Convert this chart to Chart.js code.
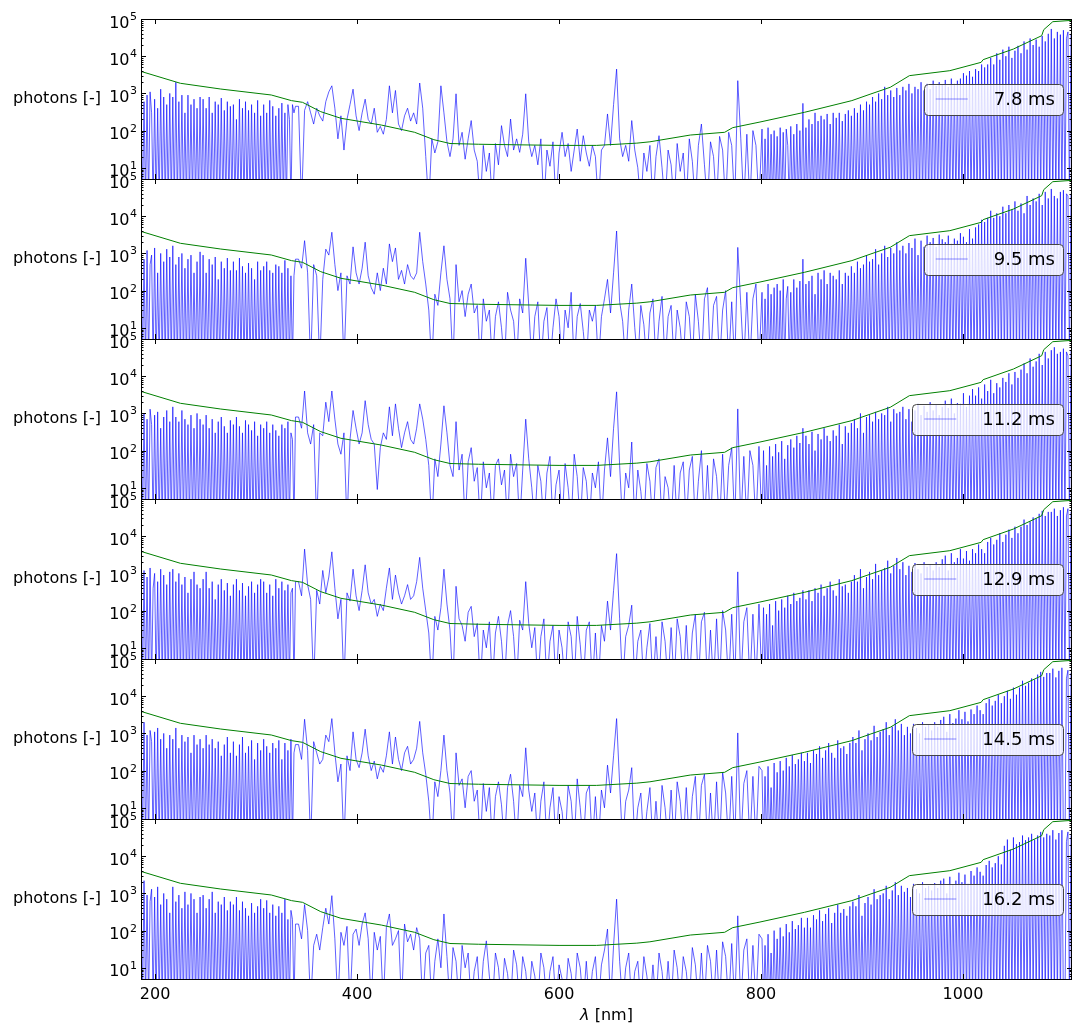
<!DOCTYPE html>
<html>
<head>
<meta charset="utf-8">
<script src="https://cdn.jsdelivr.net/npm/chart.js@4.4.1/dist/chart.umd.min.js"></script>
<style>
    html, body { margin: 0; padding: 0; background: #fff; }
    #wrap { position: relative; width: 1082px; height: 1036px; }
    #wrap canvas { position: absolute; left: 0; top: 0; }
</style>
</head>
<body>
<div id="wrap"></div>
<script>
// wavelength grid (nm): fine in UV and NIR, coarser in the visible
const wavelength = [];
for (let j = 0; j <= 102; j++) wavelength.push(186 + 1.5 * j);
for (let nm = 342; nm <= 798; nm += 3) wavelength.push(nm);
for (let j = 0; j <= 204; j++) wavelength.push(801 + 1.5 * j);

const exposures = ['7.8 ms', '9.5 ms', '11.2 ms', '12.9 ms', '14.5 ms', '16.2 ms'];
const xTicks = [200, 400, 600, 800, 1000];
const yDecades = [1, 2, 3, 4, 5];

// detection limit (green)
const greenNm = [186, 225, 265, 315, 335, 346, 364, 384, 424, 457, 476, 492, 520, 600, 637, 677, 690, 730, 764, 772, 799, 843, 890, 908, 928, 947, 987, 1018, 1020, 1050, 1078, 1080, 1089, 1108];
const greenPhotons = [3900, 1870, 1310, 906, 640, 575, 323, 214, 141, 90, 57, 45, 43, 40, 40, 46, 50, 76, 90, 120, 170, 310, 640, 950, 1460, 3000, 4080, 6840, 8070, 15600, 35600, 51600, 84700, 92000];

// measured photons (1 = no counts): uv 186-339 nm, vis 342-798 nm, ir 801-1107 nm
const uv78 = [
    1200, 1, 600, 1, 900, 1, 1100, 300, 1, 700,
    1, 400, 1, 1300, 1, 800, 1, 500, 1, 1000,
    1, 800, 1, 2000, 1, 600, 1, 900, 1, 300,
    1, 900, 1, 500, 1, 700, 1, 400, 1, 800,
    1, 700, 1, 400, 1, 800, 1, 300, 1, 600,
    1, 500, 1, 750, 1, 350, 1, 600, 1, 450,
    1, 500, 1, 200, 1, 700, 1, 400, 1, 600,
    1, 350, 1, 500, 1, 300, 1, 650, 1, 250,
    1, 500, 1, 300, 1, 650, 1, 450, 1, 250,
    1, 400, 1, 550, 1, 300, 1, 500, 200, 1,
    500, 300, 450
];
const vis78 = [
    450, 1, 350, 600, 300, 150, 400, 250,
    180, 600, 1100, 1600, 400, 60, 250, 30, 200, 500,
    1300, 250, 100, 300, 700, 200, 150, 400, 90, 130,
    80, 200, 1600, 300, 1200, 150, 100, 250, 400, 180,
    300, 150, 1900, 400, 20, 1, 60, 25, 50, 1600,
    300, 50, 20, 60, 975, 40, 90, 17, 60, 186,
    30, 15, 1, 40, 8, 25, 1, 45, 12, 136,
    40, 20, 205, 30, 60, 26, 80, 975, 50, 20,
    40, 12, 60, 1, 30, 11, 50, 1, 25, 90,
    20, 45, 8, 30, 110, 15, 73, 25, 11, 40,
    20, 1, 30, 40, 280, 40, 500, 4500, 60, 20,
    40, 15, 186, 30, 10, 1, 25, 8, 40, 1,
    20, 73, 10, 1, 30, 12, 1, 45, 8, 25,
    1, 60, 15, 1, 40, 150, 12, 1, 50, 20,
    1, 70, 30, 1, 90, 40, 1, 2200, 60, 1,
    80, 1, 100, 40, 1
];
const ir78 = [
    110, 1, 60, 1, 120, 1, 80, 1, 100, 1,
    70, 1, 120, 1, 90, 1, 110, 40, 1, 130,
    1, 80, 1, 150, 1, 100, 1, 540, 1, 120,
    1, 200, 1, 150, 1, 300, 1, 180, 1, 250,
    1, 200, 1, 280, 1, 150, 1, 300, 1, 220,
    1, 300, 1, 180, 1, 280, 1, 350, 1, 250,
    1, 400, 1, 300, 1, 500, 1, 350, 1, 600,
    1, 500, 1, 800, 1, 600, 1, 1000, 1, 700,
    1, 1500, 1, 900, 1, 1200, 1, 800, 1, 1400,
    1, 900, 1, 1500, 1, 1200, 1, 1800, 1, 1000,
    1, 1500, 1, 1300, 1, 2000, 1, 1200, 1, 1800,
    1, 1300, 1, 2200, 1, 1600, 1, 2000, 1, 1700,
    1, 2300, 1, 1500, 1, 2500, 1, 1800, 1, 2200,
    1, 2500, 1, 3500, 1, 3000, 1, 4000, 1, 2800,
    1, 4500, 1, 4000, 1, 6000, 1, 5000, 1, 6000,
    1, 9000, 1, 6000, 1, 12000, 1, 8000, 1, 15000,
    1, 10000, 1, 18000, 1, 9000, 1, 14000, 1, 19000,
    1, 12000, 1, 25000, 1, 15000, 1, 30000, 1, 20000,
    1, 28000, 1, 18000, 1, 35000, 1, 25000, 1, 40000,
    1, 54000, 1, 30000, 1, 45000, 1, 38000, 1, 50000,
    1, 30000, 45000, 1, 40000
];

const uv95 = [
    1800, 1, 700, 1, 1200, 1, 500, 900, 1, 1400,
    1, 300, 1, 1000, 1, 600, 1, 1300, 1, 800,
    1, 1600, 1, 500, 1, 800, 1, 1000, 1, 400,
    1, 700, 1, 900, 1, 300, 1, 600, 1, 1100,
    1, 900, 1, 300, 1, 700, 1, 500, 1, 800,
    1, 200, 1, 600, 1, 400, 1, 750, 1, 350,
    1, 600, 1, 350, 1, 750, 1, 450, 1, 300,
    1, 550, 1, 400, 1, 200, 1, 600, 1, 350,
    1, 450, 1, 600, 1, 350, 1, 300, 1, 500,
    1, 450, 1, 300, 1, 650, 1, 400, 1, 250,
    1, 250, 700
];
const vis95 = [
    700, 400, 2200, 300, 1, 500, 250, 1,
    200, 1300, 900, 3700, 500, 100, 300, 1, 250, 150,
    1500, 300, 150, 400, 2000, 250, 120, 80, 300, 100,
    400, 150, 1800, 600, 1400, 200, 350, 150, 500, 250,
    200, 300, 3700, 600, 150, 30, 1, 80, 40, 300,
    1600, 200, 60, 1, 500, 50, 100, 20, 80, 150,
    25, 40, 1, 60, 15, 30, 1, 20, 50, 10,
    1, 90, 30, 15, 1, 60, 25, 740, 40, 1,
    20, 50, 1, 15, 35, 1, 10, 60, 20, 1,
    30, 10, 90, 1, 20, 45, 8, 1, 30, 15,
    40, 1, 20, 60, 200, 25, 300, 4000, 50, 15,
    1, 30, 150, 10, 1, 40, 12, 1, 25, 60,
    1, 15, 70, 1, 20, 40, 1, 30, 10, 1,
    50, 20, 1, 80, 15, 1, 60, 120, 1, 40,
    70, 1, 30, 100, 1, 50, 1, 1450, 40, 1,
    90, 1, 60, 150, 1
];
const ir95 = [
    90, 1, 60, 1, 150, 1, 80, 1, 120, 1,
    150, 1, 100, 1, 200, 1, 60, 130, 1, 90,
    1, 200, 1, 120, 1, 180, 1, 700, 1, 150,
    1, 180, 1, 250, 1, 80, 1, 300, 1, 200,
    1, 350, 1, 150, 1, 300, 1, 250, 1, 200,
    1, 350, 1, 150, 1, 300, 1, 250, 1, 450,
    1, 300, 1, 600, 1, 400, 1, 500, 1, 900,
    1, 600, 1, 700, 1, 1300, 1, 500, 1, 1000,
    1, 1600, 1, 800, 1, 1400, 1, 1000, 1, 2000,
    1, 1200, 1, 1600, 1, 1000, 1, 1900, 1, 1400,
    1, 2500, 1, 900, 1, 2200, 1, 1500, 1, 3000,
    1, 2000, 1, 2600, 1, 1500, 1, 3200, 1, 2400,
    1, 2000, 1, 3000, 1, 1800, 1, 2500, 1, 2200,
    1, 3500, 1, 2800, 1, 2000, 1, 4500, 1, 2500,
    1, 5000, 1, 6000, 1, 8000, 1, 7000, 1, 9000,
    1, 14000, 1, 9000, 1, 12000, 1, 10000, 1, 18000,
    1, 12000, 1, 20000, 1, 15000, 1, 25000, 1, 14000,
    1, 22000, 1, 12000, 1, 35000, 1, 20000, 1, 30000,
    1, 25000, 1, 40000, 1, 20000, 1, 45000, 1, 30000,
    1, 54000, 1, 35000, 1, 30000, 1, 45000, 1, 50000,
    1, 40000, 35000, 1, 40000
];

const uv112 = [
    1800, 1, 1000, 1, 700, 1, 1300, 500, 1, 900,
    1, 1100, 1, 400, 1, 800, 1, 1200, 1, 600,
    1, 1500, 1, 800, 1, 600, 1, 1200, 1, 700,
    1, 500, 1, 900, 1, 400, 1, 1000, 1, 700,
    1, 500, 1, 900, 1, 400, 1, 700, 1, 300,
    1, 600, 1, 800, 1, 450, 1, 300, 1, 650,
    1, 500, 1, 800, 1, 450, 1, 300, 1, 650,
    1, 500, 1, 350, 1, 600, 1, 250, 1, 500,
    1, 400, 1, 600, 1, 300, 1, 500, 1, 350,
    1, 250, 1, 500, 1, 400, 1, 600, 1, 300,
    200, 1, 800
];
const vis112 = [
    800, 400, 4000, 300, 150, 500, 1, 300,
    250, 2000, 600, 4000, 700, 150, 80, 300, 1, 200,
    1200, 400, 150, 300, 2200, 500, 200, 150, 9, 120,
    300, 200, 1500, 250, 1800, 400, 120, 300, 600, 200,
    150, 400, 1800, 700, 200, 40, 1, 60, 20, 150,
    1600, 300, 40, 20, 600, 30, 80, 1, 50, 120,
    15, 35, 1, 50, 10, 25, 1, 40, 60, 12,
    30, 1, 80, 20, 45, 1, 30, 700, 60, 10,
    1, 40, 15, 1, 25, 70, 1, 12, 30, 1,
    45, 10, 1, 80, 20, 1, 35, 15, 1, 25,
    10, 50, 1, 30, 220, 20, 400, 3800, 40, 1,
    25, 10, 170, 1, 30, 8, 1, 45, 15, 1,
    35, 60, 1, 20, 10, 1, 40, 1, 25, 50,
    1, 30, 70, 1, 15, 100, 1, 40, 1, 60,
    20, 1, 80, 1, 40, 120, 1, 1320, 1, 70,
    1, 100, 40, 1, 130
];
const ir112 = [
    1, 100, 1, 40, 1, 130, 1, 70, 1, 150,
    1, 90, 1, 180, 1, 60, 1, 140, 1, 200,
    1, 120, 1, 250, 1, 160, 1, 400, 1, 250,
    1, 150, 1, 320, 1, 100, 1, 280, 1, 200,
    1, 400, 1, 250, 1, 180, 1, 350, 1, 250,
    1, 500, 1, 150, 1, 450, 1, 300, 1, 550,
    1, 700, 1, 400, 1, 1000, 1, 300, 1, 800,
    1, 900, 1, 600, 1, 1100, 1, 700, 1, 1000,
    1, 900, 1, 1500, 1, 600, 1, 1300, 1, 1000,
    1, 1100, 1, 1500, 1, 700, 1, 1300, 1, 600,
    1, 1200, 1, 1800, 1, 900, 1, 1600, 1, 1100,
    1, 2000, 1, 1200, 1, 1700, 1, 900, 1, 1500,
    1, 2200, 1, 1400, 1, 2500, 1, 1000, 1, 1900,
    1, 1800, 1, 3500, 1, 1500, 1, 3000, 1, 4500,
    1, 3000, 1, 5000, 1, 2500, 1, 6000, 1, 4000,
    1, 8000, 1, 3500, 1, 6500, 1, 5000, 1, 9000,
    1, 7000, 1, 12000, 1, 6000, 1, 13000, 1, 9000,
    1, 15000, 1, 22000, 1, 12000, 1, 30000, 1, 18000,
    1, 25000, 1, 40000, 1, 20000, 1, 45000, 1, 30000,
    1, 50000, 1, 60000, 1, 40000, 1, 45000, 1, 55000,
    1, 45000, 35000, 1, 50000
];

const uv129 = [
    1600, 1, 1200, 1, 800, 1, 1400, 1, 400, 1000,
    1, 600, 1, 1300, 1, 900, 1, 500, 1, 1100,
    1, 1300, 1, 600, 1, 1000, 1, 500, 1, 800,
    1, 300, 1, 700, 1, 1100, 1, 500, 1, 400,
    1, 700, 1, 1100, 1, 400, 1, 600, 1, 200,
    1, 500, 1, 700, 1, 350, 1, 550, 1, 250,
    1, 500, 1, 700, 1, 350, 1, 550, 1, 250,
    1, 450, 1, 600, 1, 300, 1, 500, 1, 700,
    1, 600, 1, 300, 1, 500, 1, 250, 1, 700,
    1, 400, 1, 600, 1, 350, 1, 500, 1, 300,
    400, 1, 600
];
const vis129 = [
    600, 250, 4500, 500, 200, 1, 350, 150,
    1200, 300, 800, 3800, 400, 60, 200, 1, 300, 180,
    1300, 250, 100, 350, 1700, 300, 150, 200, 70, 150,
    100, 400, 1400, 200, 900, 300, 150, 250, 500, 200,
    250, 600, 2700, 400, 100, 25, 1, 70, 30, 120,
    1300, 150, 30, 1, 450, 60, 40, 15, 90, 130,
    20, 45, 1, 30, 10, 50, 1, 25, 70, 15,
    1, 40, 100, 20, 1, 55, 30, 600, 45, 10,
    35, 1, 20, 60, 1, 15, 40, 1, 30, 10,
    1, 50, 20, 1, 70, 12, 1, 30, 50, 1,
    25, 1, 40, 15, 180, 30, 350, 3400, 60, 1,
    20, 40, 140, 1, 15, 30, 1, 10, 45, 1,
    20, 1, 50, 15, 1, 35, 1, 60, 20, 1,
    40, 1, 25, 80, 1, 50, 90, 1, 30, 1,
    60, 1, 100, 30, 1, 80, 1, 1100, 1, 50,
    120, 1, 80, 1, 150
];
const ir129 = [
    1, 120, 1, 80, 1, 150, 1, 40, 1, 180,
    1, 100, 1, 200, 1, 120, 1, 250, 1, 150,
    1, 300, 1, 180, 1, 220, 1, 350, 1, 200,
    1, 350, 1, 180, 1, 400, 1, 300, 1, 500,
    1, 250, 1, 400, 1, 600, 1, 350, 1, 250,
    1, 700, 1, 450, 1, 500, 1, 300, 1, 600,
    1, 900, 1, 600, 1, 1300, 1, 400, 1, 800,
    1, 1100, 1, 700, 1, 1800, 1, 900, 1, 1200,
    1, 1400, 1, 2200, 1, 1000, 1, 1600, 1, 2600,
    1, 1300, 1, 2000, 1, 900, 1, 1600, 1, 1100,
    1, 1900, 1, 1300, 1, 1000, 1, 2000, 1, 1500,
    1, 1700, 1, 1200, 1, 2000, 1, 1500, 1, 2400,
    1, 3000, 1, 1200, 1, 3500, 1, 2000, 1, 2600,
    1, 4500, 1, 2500, 1, 4000, 1, 2200, 1, 4500,
    1, 3500, 1, 6000, 1, 4500, 1, 3500, 1, 7000,
    1, 9000, 1, 6000, 1, 8000, 1, 12000, 1, 7000,
    1, 11000, 1, 15000, 1, 9000, 1, 18000, 1, 12000,
    1, 18000, 1, 28000, 1, 20000, 1, 25000, 1, 32000,
    1, 30000, 1, 40000, 1, 48000, 1, 35000, 1, 45000,
    1, 45000, 1, 55000, 1, 35000, 1, 50000, 1, 60000,
    1, 35000, 55000, 1, 45000
];

const uv145 = [
    1500, 1, 2000, 1, 900, 1, 1200, 600, 1, 1100,
    1, 1400, 1, 700, 1, 1000, 1, 400, 1, 900,
    1, 700, 1, 1400, 1, 400, 1, 900, 1, 600,
    1, 800, 1, 300, 1, 900, 1, 500, 1, 700,
    1, 400, 1, 900, 1, 500, 1, 700, 1, 400,
    1, 600, 1, 250, 1, 500, 1, 800, 1, 300,
    1, 600, 1, 250, 1, 500, 1, 800, 1, 300,
    1, 450, 1, 650, 1, 200, 1, 550, 1, 350,
    1, 700, 1, 450, 1, 300, 1, 550, 1, 400,
    1, 650, 1, 200, 1, 550, 1, 350, 1, 700,
    1, 300, 500
];
const vis145 = [
    500, 200, 2400, 350, 1, 600, 300, 150,
    200, 900, 600, 2500, 300, 50, 150, 1, 250, 100,
    1100, 200, 120, 300, 1300, 250, 100, 180, 60, 130,
    90, 250, 1100, 150, 800, 200, 100, 300, 450, 150,
    200, 400, 2100, 300, 80, 15, 1, 50, 20, 100,
    900, 100, 25, 1, 300, 40, 60, 10, 70, 100,
    15, 30, 1, 45, 8, 35, 1, 20, 50, 12,
    1, 35, 80, 15, 1, 40, 20, 410, 30, 8,
    25, 1, 15, 50, 1, 10, 35, 1, 20, 8,
    1, 40, 15, 1, 60, 10, 1, 25, 40, 1,
    20, 1, 30, 10, 140, 25, 250, 2500, 45, 1,
    15, 30, 120, 1, 10, 25, 1, 8, 35, 1,
    15, 1, 40, 10, 1, 30, 1, 50, 15, 1,
    35, 1, 20, 70, 1, 40, 80, 1, 25, 1,
    50, 1, 90, 25, 1, 70, 1, 1030, 1, 45,
    100, 1, 70, 1, 130
];
const ir145 = [
    100, 1, 70, 1, 130, 1, 35, 1, 160, 1,
    90, 1, 180, 1, 100, 1, 220, 1, 130, 1,
    260, 1, 150, 1, 200, 1, 300, 1, 180, 1,
    300, 1, 160, 1, 350, 1, 280, 1, 450, 1,
    220, 1, 350, 1, 550, 1, 300, 1, 220, 1,
    650, 1, 400, 1, 450, 1, 280, 1, 550, 1,
    800, 1, 550, 1, 1200, 1, 350, 1, 700, 1,
    1000, 1, 650, 1, 1600, 1, 800, 1, 1100, 1,
    1300, 1, 2000, 1, 900, 1, 1500, 1, 2400, 1,
    1200, 1, 1800, 1, 900, 1, 1500, 1, 1000, 1,
    1800, 1, 1400, 1, 1000, 1, 2000, 1, 1500, 1,
    1700, 1, 1200, 1, 2000, 1, 1500, 1, 2300, 1,
    2800, 1, 1100, 1, 3300, 1, 1900, 1, 2500, 1,
    4200, 1, 2400, 1, 3800, 1, 2100, 1, 4400, 1,
    3300, 1, 5600, 1, 4200, 1, 3300, 1, 6500, 1,
    8500, 1, 5600, 1, 7500, 1, 11000, 1, 6500, 1,
    10000, 1, 14000, 1, 8500, 1, 17000, 1, 11000, 1,
    17000, 1, 26000, 1, 19000, 1, 23000, 1, 30000, 1,
    28000, 1, 38000, 1, 45000, 1, 33000, 1, 42000, 1,
    42000, 1, 55000, 1, 32000, 1, 48000, 1, 58000, 1,
    1, 30000, 50000, 1, 42000
];

const uv162 = [
    1400, 1, 2200, 1, 900, 1, 600, 1300, 1, 800,
    1, 1500, 1, 500, 1, 1000, 1, 700, 1, 300,
    1, 1500, 1, 600, 1, 900, 1, 400, 1, 1100,
    1, 500, 1, 1000, 1, 700, 1, 300, 1, 800,
    1, 900, 1, 400, 1, 700, 1, 1100, 1, 300,
    1, 600, 1, 500, 1, 800, 1, 350, 1, 600,
    1, 500, 1, 800, 1, 350, 1, 600, 1, 400,
    1, 250, 1, 550, 1, 300, 1, 450, 1, 700,
    1, 400, 1, 650, 1, 300, 1, 500, 1, 250,
    1, 450, 1, 300, 1, 700, 1, 200, 1, 350,
    200, 1, 150
];
const vis162 = [
    150, 60, 500, 100, 1, 40, 80, 30,
    120, 400, 150, 870, 60, 1, 90, 40, 130, 1,
    80, 110, 40, 150, 300, 60, 1, 90, 30, 70,
    1, 120, 280, 40, 60, 100, 1, 150, 50, 80,
    30, 120, 60, 1, 25, 40, 1, 15, 60, 10,
    280, 20, 1, 35, 15, 1, 40, 10, 25, 1,
    8, 20, 1, 15, 53, 6, 1, 25, 10, 1,
    18, 7, 1, 30, 12, 1, 20, 8, 1, 15,
    6, 1, 25, 10, 1, 8, 20, 1, 12, 5,
    1, 18, 7, 1, 25, 10, 1, 15, 1, 8,
    20, 1, 12, 30, 110, 1, 40, 700, 15, 1,
    10, 25, 1, 8, 15, 1, 20, 6, 1, 12,
    1, 25, 8, 1, 15, 1, 30, 10, 1, 20,
    8, 1, 35, 12, 1, 25, 1, 40, 15, 1,
    30, 1, 50, 20, 1, 45, 1, 250, 1, 30,
    60, 1, 40, 1, 80
];
const ir162 = [
    60, 1, 40, 1, 80, 1, 25, 1, 100, 1,
    60, 1, 120, 1, 70, 1, 150, 1, 90, 1,
    180, 1, 110, 1, 140, 1, 220, 1, 120, 1,
    220, 1, 120, 1, 260, 1, 200, 1, 350, 1,
    180, 1, 280, 1, 400, 1, 160, 1, 300, 1,
    500, 1, 300, 1, 380, 1, 250, 1, 450, 1,
    600, 1, 450, 1, 900, 1, 250, 1, 550, 1,
    800, 1, 500, 1, 1300, 1, 700, 1, 900, 1,
    1000, 1, 1600, 1, 700, 1, 1200, 1, 2000, 1,
    900, 1, 1600, 1, 1100, 1, 1400, 1, 800, 1,
    1800, 1, 1300, 1, 1000, 1, 2000, 1, 1400, 1,
    1600, 1, 1200, 1, 1900, 1, 1400, 1, 2200, 1,
    2500, 1, 1000, 1, 2800, 1, 1700, 1, 2200, 1,
    3600, 1, 2000, 1, 3200, 1, 1800, 1, 4000, 1,
    3000, 1, 5000, 1, 3800, 1, 3000, 1, 5800, 1,
    7500, 1, 5000, 1, 6500, 1, 10000, 1, 6000, 1,
    19000, 1, 28000, 1, 15000, 1, 32000, 1, 21000, 1,
    24000, 1, 36000, 1, 27000, 1, 32000, 1, 40000, 1,
    28000, 1, 36000, 1, 45000, 1, 32000, 1, 40000, 1,
    36000, 1, 50000, 1, 28000, 1, 42000, 1, 50000, 1,
    1, 25000, 45000, 1, 36000
];

const allPhotons = [
    uv78.concat(vis78, ir78),
    uv95.concat(vis95, ir95),
    uv112.concat(vis112, ir112),
    uv129.concat(vis129, ir129),
    uv145.concat(vis145, ir145),
    uv162.concat(vis162, ir162)
];

const W = 1082, H = 1036;
const LEFT = 141, RIGHT = 1072, TOP = 19, PANEL_H = 160;
const FONT = '"DejaVu Sans", sans-serif';
const wrap = document.getElementById('wrap');

function drawDecor(chart, k) {
    const ctx = chart.ctx;
    const a = chart.chartArea;
    const xs = chart.scales.x, ys = chart.scales.y;
    ctx.save();
    ctx.strokeStyle = '#000';
    ctx.fillStyle = '#000';
    ctx.lineWidth = 1;

    // ticks on log axis, both sides, pointing in
    ctx.beginPath();
    for (let d = 0; d <= 5; d++) {
        for (let m = 1; m <= 9; m++) {
            const v = m * Math.pow(10, d);
            if (v < 5 || v > 100000) continue;
            const y = Math.round(ys.getPixelForValue(v)) + 0.5;
            const len = m === 1 ? 5 : 2.5;
            ctx.moveTo(a.left, y); ctx.lineTo(a.left + len, y);
            ctx.moveTo(a.right, y); ctx.lineTo(a.right - len, y);
        }
    }
    xTicks.forEach(function (t) {
        const x = Math.round(xs.getPixelForValue(t)) + 0.5;
        ctx.moveTo(x, a.top); ctx.lineTo(x, a.top + 5);
        ctx.moveTo(x, a.bottom); ctx.lineTo(x, a.bottom - 5);
    });
    ctx.stroke();

    // frame
    ctx.strokeRect(a.left + 0.5, a.top + 0.5, a.right - a.left - 1, a.bottom - a.top);

    // y tick labels 10^d
    yDecades.forEach(function (d) {
        const y = ys.getPixelForValue(Math.pow(10, d));
        ctx.font = '11px ' + FONT;
        ctx.textAlign = 'right';
        ctx.textBaseline = 'alphabetic';
        const sup = String(d);
        const sw = ctx.measureText(sup).width;
        ctx.fillText(sup, 137, y + 1);
        ctx.font = '16px ' + FONT;
        ctx.fillText('10', 137 - sw - 0.5, y + 8.5);
    });

    // y label
    ctx.font = '16px ' + FONT;
    ctx.textAlign = 'right';
    ctx.textBaseline = 'middle';
    ctx.fillText('photons [-]', 101, (a.top + a.bottom) / 2);

    // x tick labels + x label on bottom panel
    if (k === exposures.length - 1) {
        ctx.textAlign = 'center';
        ctx.textBaseline = 'top';
        xTicks.forEach(function (t) {
            ctx.fillText(String(t), xs.getPixelForValue(t), a.bottom + 8);
        });
        const cx = (a.left + a.right) / 2;
        ctx.textBaseline = 'middle';
        ctx.font = 'italic 16px ' + FONT;
        const lw = ctx.measureText('\u03bb').width;
        ctx.font = '16px ' + FONT;
        const rw = ctx.measureText(' [nm]').width;
        const x0 = cx - (lw + rw) / 2;
        ctx.textAlign = 'left';
        ctx.font = 'italic 16px ' + FONT;
        ctx.fillText('\u03bb', x0, 1016);
        ctx.font = '16px ' + FONT;
        ctx.fillText(' [nm]', x0 + lw, 1016);
    }

    // legend box, centre right
    const label = exposures[k];
    ctx.font = '18px ' + FONT;
    const tw = ctx.measureText(label).width;
    const bw = tw + 78, bh = 31;
    const bx = a.right - 9 - bw;
    const cy = (a.top + a.bottom) / 2;
    const by = Math.round(cy - bh / 2) + 0.5;
    ctx.beginPath();
    ctx.roundRect(Math.round(bx) + 0.5, by, Math.round(bw), bh, 4);
    ctx.fillStyle = 'rgba(255,255,255,0.8)';
    ctx.fill();
    ctx.strokeStyle = '#444';
    ctx.stroke();
    ctx.beginPath();
    ctx.strokeStyle = 'rgba(0,0,255,0.45)';
    ctx.moveTo(bx + 12, cy); ctx.lineTo(bx + 44, cy);
    ctx.stroke();
    ctx.fillStyle = '#000';
    ctx.textAlign = 'right';
    ctx.textBaseline = 'middle';
    ctx.fillText(label, bx + bw - 8, cy + 1);
    ctx.restore();
}

allPhotons.forEach(function (photons, k) {
    if (photons.length !== wavelength.length) {
        console.error('panel ' + k + ': ' + photons.length + ' values for ' + wavelength.length + ' wavelengths');
    }
    const canvas = document.createElement('canvas');
    canvas.width = W;
    canvas.height = H;
    wrap.appendChild(canvas);
    const top = TOP + PANEL_H * k;
    new Chart(canvas, {
        type: 'line',
        data: {
            datasets: [
                {
                    label: 'limit',
                    data: greenNm.map(function (x, i) { return { x: x, y: greenPhotons[i] }; }),
                    borderColor: '#008000',
                    borderWidth: 1,
                    pointRadius: 0,
                    tension: 0
                },
                {
                    label: exposures[k],
                    data: wavelength.map(function (x, i) { return { x: x, y: photons[i] }; }),
                    borderColor: 'rgba(0,0,255,0.9)',
                    borderWidth: 0.7,
                    pointRadius: 0,
                    tension: 0
                }
            ]
        },
        options: {
            responsive: false,
            animation: false,
            events: [],
            layout: {
                padding: { left: LEFT, right: W - RIGHT, top: top, bottom: H - (top + PANEL_H) }
            },
            plugins: {
                legend: { display: false },
                tooltip: { enabled: false }
            },
            scales: {
                x: { type: 'linear', min: 186, max: 1108, display: false },
                y: { type: 'logarithmic', min: 5, max: 100000, display: false }
            }
        },
        plugins: [{
            id: 'decor' + k,
            afterDraw: function (chart) { drawDecor(chart, k); }
        }]
    });
});
</script>
</body>
</html>
